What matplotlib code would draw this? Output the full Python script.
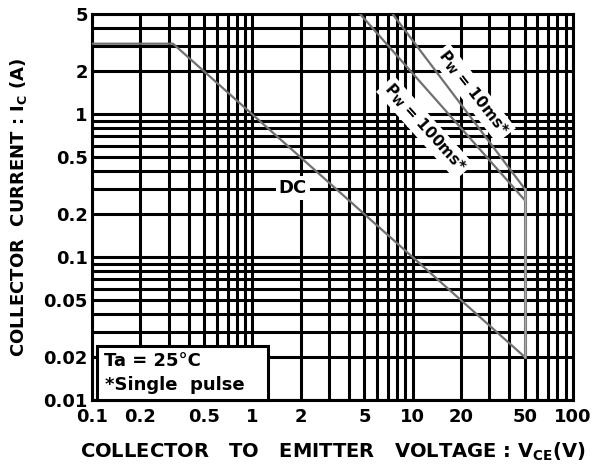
import matplotlib
matplotlib.use("Agg")
import matplotlib.pyplot as plt
from matplotlib.ticker import FixedLocator, LogLocator, NullFormatter
from matplotlib.patches import Rectangle

plt.rcParams.update({
    "font.family": "DejaVu Sans",
    "font.weight": "bold",
    "axes.labelweight": "bold",
    "font.size": 13,
    "mathtext.default": "regular",
    "mathtext.fontset": "custom",
    "mathtext.rm": "DejaVu Sans:bold",
})

# DATA
dc_v = [0.1, 0.32, 50]
dc_i = [3.1, 3.1, 0.02]

pw10_v = [7.5, 50]
pw10_i = [5, 0.3]

pw100_v = [4.7, 50]
pw100_i = [5, 0.25]

limit_v = [50, 50]
limit_i = [0.3, 0.02]

x_ticks = [0.1, 0.2, 0.5, 1, 2, 5, 10, 20, 50, 100]
x_tick_labels = ["0.1", "0.2", "0.5", "1", "2", "5", "10", "20", "50", "100"]
y_ticks = [0.01, 0.02, 0.05, 0.1, 0.2, 0.5, 1, 2, 5]
y_tick_labels = ["0.01", "0.02", "0.05", "0.1", "0.2", "0.5", "1", "2", "5"]

# PLOT
fig = plt.figure(figsize=(6.01, 4.70), dpi=100)
ax = fig.add_axes([0.1531, 0.1489, 0.8003, 0.8213])

ax.set_xscale("log")
ax.set_yscale("log")
ax.set_xlim(0.1, 100)
ax.set_ylim(0.01, 5)

ax.xaxis.set_major_locator(FixedLocator(x_ticks))
ax.set_xticklabels(x_tick_labels)
ax.yaxis.set_major_locator(FixedLocator(y_ticks))
ax.set_yticklabels(y_tick_labels)
ax.xaxis.set_minor_locator(LogLocator(base=10, subs=range(1, 10), numticks=20))
ax.yaxis.set_minor_locator(LogLocator(base=10, subs=range(1, 10), numticks=20))
ax.xaxis.set_minor_formatter(NullFormatter())
ax.yaxis.set_minor_formatter(NullFormatter())
ax.tick_params(which="both", length=0)
ax.tick_params(axis="x", pad=6)
ax.tick_params(axis="y", pad=3)

ax.grid(which="both", color="black", linewidth=2.2)
ax.set_axisbelow(True)
for sp in ax.spines.values():
    sp.set_linewidth(2.2)

line_kw = dict(color="#707070", linewidth=1.6, zorder=3)
ax.plot(dc_v, dc_i, **line_kw)
ax.plot(pw10_v, pw10_i, **line_kw)
ax.plot(pw100_v, pw100_i, **line_kw)
ax.plot(limit_v, limit_i, color="#a8a8a8", linewidth=1.8, zorder=3)

box = dict(facecolor="white", edgecolor="none", pad=2)
ax.text(1.79, 0.303, "DC", ha="center", va="center", fontsize=13,
        bbox=box, zorder=5)
ax.text(23.8, 1.40, "P$_W$ = 10ms*", ha="center", va="center", fontsize=11,
        rotation=-52, bbox=box, zorder=5)
ax.text(11.9, 0.80, "P$_W$ = 100ms*", ha="center", va="center", fontsize=11,
        rotation=-48, bbox=box, zorder=5)

# condition box in the lower left corner
ax.add_patch(Rectangle((0.01, 0.0), 0.356, 0.14, transform=ax.transAxes,
                       facecolor="white", edgecolor="black", linewidth=2.2,
                       zorder=6, clip_on=False))
ax.text(0.025, 0.10, "Ta = 25°C", transform=ax.transAxes, ha="left",
        va="center", fontsize=13, zorder=7)
ax.text(0.027, 0.04, "*Single  pulse", transform=ax.transAxes, ha="left",
        va="center", fontsize=13, zorder=7)

ax.set_xlabel("COLLECTOR   TO   EMITTER   VOLTAGE : V$_{CE}$(V)", fontsize=14)
ax.set_ylabel("COLLECTOR  CURRENT : I$_C$ (A)", fontsize=13)
ax.xaxis.set_label_coords(0.5, -0.105)
ax.yaxis.set_label_coords(-0.13, 0.5)

plt.savefig("out.png", dpi=100)
plt.close()
